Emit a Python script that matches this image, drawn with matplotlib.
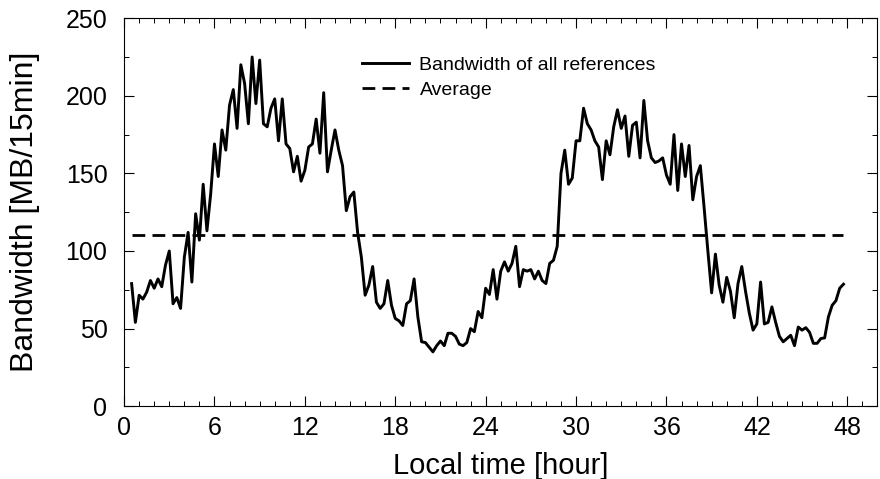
import numpy as np
import matplotlib
matplotlib.use('Agg')
import matplotlib.pyplot as plt
from matplotlib.ticker import MultipleLocator

plt.rcParams['font.family'] = ['Liberation Sans', 'DejaVu Sans']

# bandwidth per 15-minute slot, first slot at 0:30
bandwidth = [
    79, 54, 71.5, 69, 73.5, 81, 76, 82, 77, 91, 100, 66, 70, 63, 96, 112, 80, 124,
    107, 143, 113, 137, 169, 148, 178, 165, 194,
    204, 179, 220, 208, 182, 225, 195, 223, 182, 180, 192, 198, 171, 198, 169, 166,
    151, 161, 145, 152, 167, 169, 185, 163, 202, 151, 165, 178,
    165, 155, 126, 135, 138, 112, 96, 71.5, 78, 90, 67, 63, 66, 81, 65, 56.5, 55, 52,
    66, 68, 82, 57.5, 41.5, 41, 38, 35, 39,
    42, 39, 47, 47, 45, 40, 39, 41, 50, 48, 61, 57, 76, 72, 88, 69, 87, 93, 87, 92,
    103, 77, 88, 87, 88, 82, 87, 81,
    79, 92, 94, 103, 150, 165, 143, 147, 171, 171, 192, 182, 178, 171, 167, 146, 171,
    162, 180, 191, 179, 187, 161, 181, 183, 160, 197, 171,
    160, 157, 158, 160, 149, 143, 175, 139, 169, 148, 168, 133, 148, 155, 128, 100,
    73, 98, 78, 67, 83, 74, 57, 79, 90, 74, 60, 49,
    53, 80, 53, 54, 64, 54, 45, 41.5, 43.6, 45.7, 39, 51, 49, 50.6, 47.6, 40.5, 40.5,
    43.6, 44, 57.5, 65, 68, 76, 78.6,
]
average = 110
start_hour = 0.5
slot_hours = 0.25

hours = start_hour + slot_hours * np.arange(len(bandwidth))

fig = plt.figure(figsize=(8.8, 4.79), dpi=100)
ax = fig.add_axes([0.141, 0.152, 0.856, 0.810])

ax.plot(hours, bandwidth, color='black', lw=2.1, label='Bandwidth of all references')
ax.plot([hours[0], hours[-1]], [average, average], color='black', lw=2.0,
        dashes=(4.6, 2.6), label='Average')

ax.set_xlim(0, 50)
ax.set_ylim(0, 250)
ax.xaxis.set_major_locator(MultipleLocator(6))
ax.xaxis.set_minor_locator(MultipleLocator(1))
ax.yaxis.set_major_locator(MultipleLocator(50))
ax.yaxis.set_minor_locator(MultipleLocator(25))
ax.tick_params(which='both', direction='in', top=True, right=True, labelsize=18)
ax.tick_params(axis='x', pad=7)
ax.tick_params(axis='y', pad=12)
ax.tick_params(which='major', length=7, width=0.8)
ax.tick_params(which='minor', length=3.5, width=0.7)
for s in ax.spines.values():
    s.set_linewidth(0.8)

ax.set_xlabel('Local time [hour]', fontsize=21)
ax.set_ylabel('Bandwidth [MB/15min]', fontsize=23)
ax.xaxis.set_label_coords(0.5, -0.118)
ax.yaxis.set_label_coords(-0.112, 0.5)

ax.legend(loc='upper left', bbox_to_anchor=(0.316, 0.902), borderaxespad=0, borderpad=0,
          frameon=False, fontsize=14, handlelength=2.4, handletextpad=0.55,
          labelspacing=0.37)

fig.savefig('out.png', dpi=100)
